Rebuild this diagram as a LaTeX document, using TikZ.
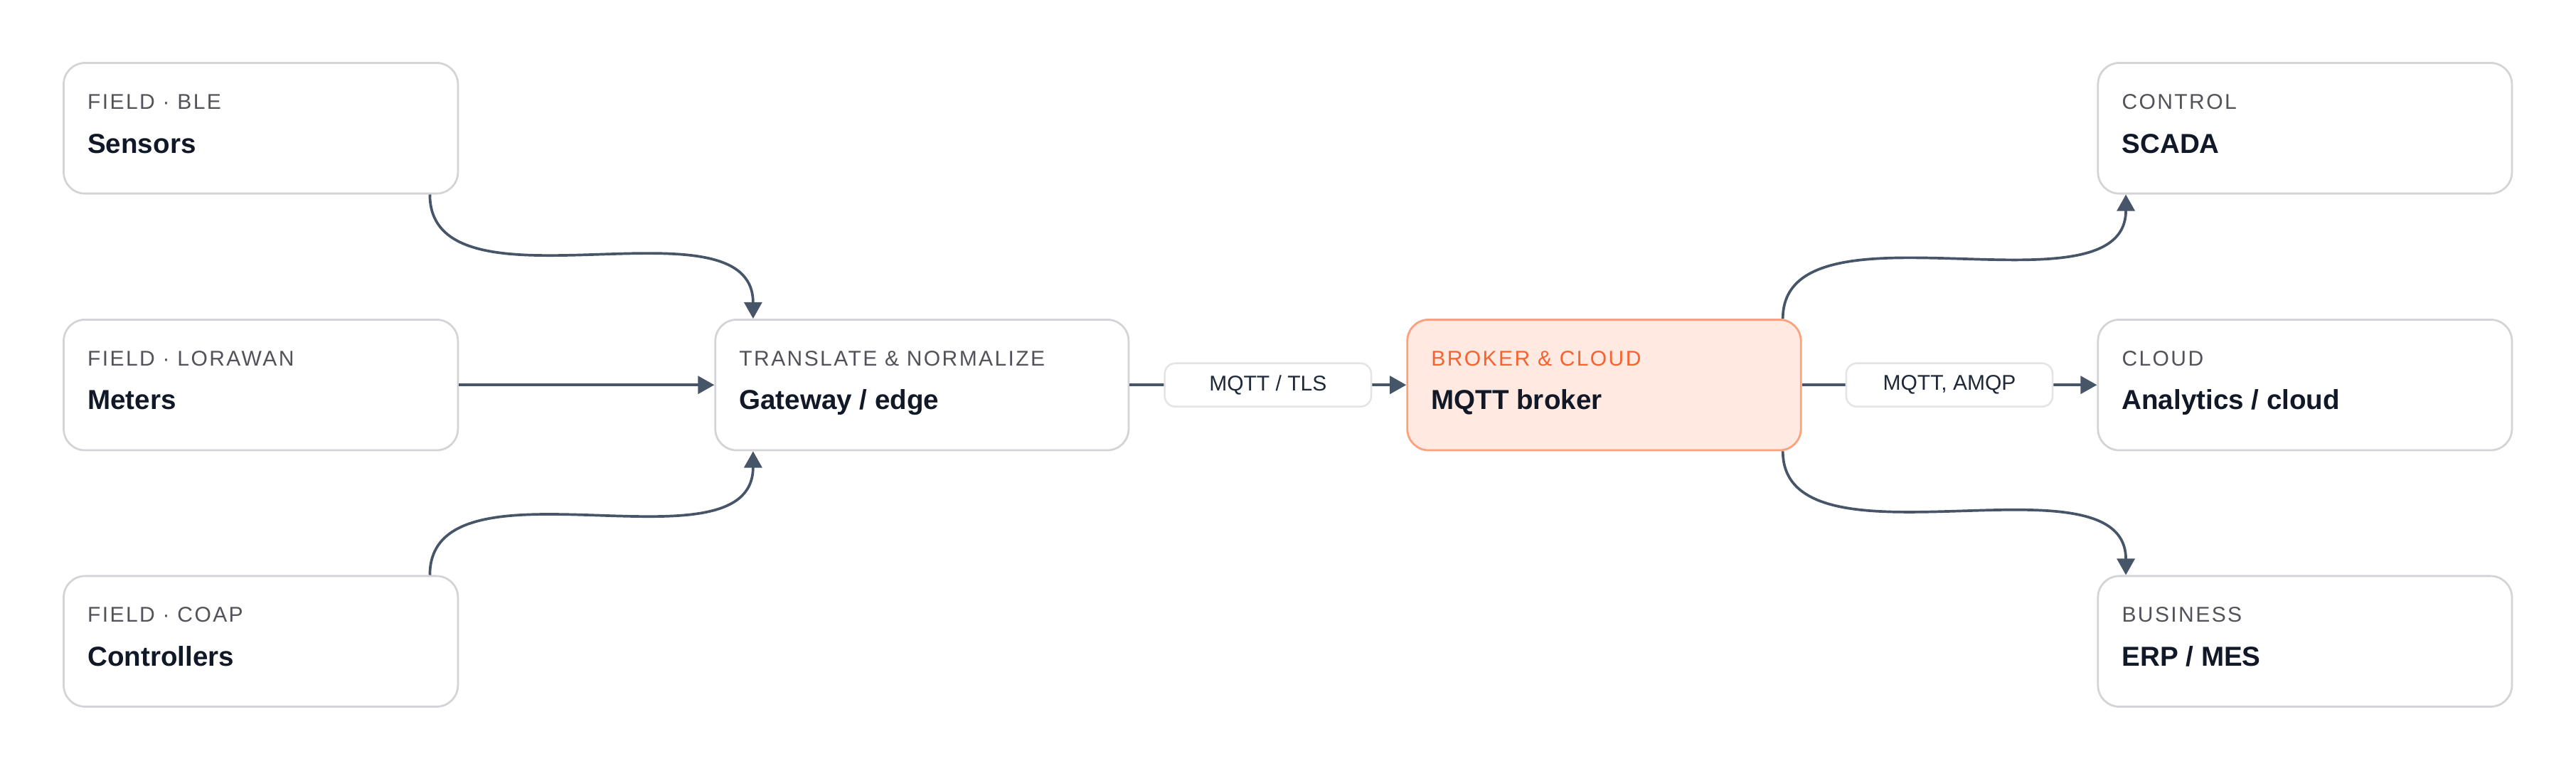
\documentclass[tikz,border=0pt]{standalone}
\usepackage{fontspec}
\setmainfont{Liberation Sans}
\newfontfamily\tagfont[LetterSpace=8]{Liberation Sans}
\usetikzlibrary{arrows.meta,calc}
\definecolor{cardline}{HTML}{D4D4D8}
\definecolor{tagtext}{HTML}{52525B}
\definecolor{ink}{HTML}{111827}
\definecolor{wire}{HTML}{475569}
\definecolor{pillline}{HTML}{E4E4E7}
\definecolor{pilltext}{HTML}{1F2937}
\definecolor{hotfill}{HTML}{FFE9E1}
\definecolor{hotline}{HTML}{FDA07D}
\definecolor{hottext}{HTML}{F9622F}
\def\rowA{78.05}
\def\rowB{234.3}
\def\rowC{390.35}
\def\bend{77}

\begin{document}
\begin{tikzpicture}[x=1pt, y=-1pt,
		card/.style={draw=cardline, line width=1.2pt, rounded corners=13pt, fill=white, minimum height=79.5pt, inner sep=0pt},
		hot/.style={card, draw=hotline, fill=hotfill},
		tag/.style={anchor=base west, inner sep=0pt, text=tagtext, font=\tagfont\fontsize{13}{15}\selectfont},
		title/.style={anchor=base west, inner sep=0pt, text=ink, font=\bfseries\fontsize{16.7}{20}\selectfont},
		pill/.style={draw=pillline, line width=1.1pt, fill=white, rounded corners=6.5pt, minimum width=125.7pt, minimum height=26.4pt, inner sep=0pt, text=pilltext, font=\fontsize{13}{15}\selectfont},
		link/.style={-{Triangle[length=10pt,width=10.8pt]}, line width=1.6pt, draw=wire}]
		
		\useasboundingbox (0,0) rectangle (1568,468.85);
		
		% ---------- Field devices ----------
		\node[card, minimum width=240pt] (sens) at (158.75,\rowA) {};
		\node[tag]   (sens-tag)  at ($(sens.north west)+(15,28.7)$) {FIELD · BLE};
		\node[title] (sens-name) at ($(sens.north west)+(15,55.4)$) {Sensors};
		
		\node[card, minimum width=240pt] (met) at (158.75,\rowB) {};
		\node[tag]   (met-tag)  at ($(met.north west)+(15,28.7)$) {FIELD · LORAWAN};
		\node[title] (met-name) at ($(met.north west)+(15,55.4)$) {Meters};
		
		\node[card, minimum width=240pt] (ctl) at (158.75,\rowC) {};
		\node[tag]   (ctl-tag)  at ($(ctl.north west)+(15,28.7)$) {FIELD · COAP};
		\node[title] (ctl-name) at ($(ctl.north west)+(15,55.4)$) {Controllers};
		
		% ---------- Gateway and broker ----------
		\node[card, minimum width=251.6pt] (gw) at (561.2,\rowB) {};
		\node[tag]   (gw-tag)  at ($(gw.north west)+(15,28.7)$) {TRANSLATE \& NORMALIZE};
		\node[title] (gw-name) at ($(gw.north west)+(15,55.4)$) {Gateway / edge};
		
		\node[hot, minimum width=239.6pt] (brk) at (976.4,\rowB) {};
		\node[tag, text=hottext] (brk-tag)  at ($(brk.north west)+(15,28.7)$) {BROKER \& CLOUD};
		\node[title]             (brk-name) at ($(brk.north west)+(15,55.4)$) {MQTT broker};
		
		% ---------- Consumers ----------
		\node[card, minimum width=252pt] (scada) at (1403,\rowA) {};
		\node[tag]   (scada-tag)  at ($(scada.north west)+(15,28.7)$) {CONTROL};
		\node[title] (scada-name) at ($(scada.north west)+(15,55.4)$) {SCADA};
		
		\node[card, minimum width=252pt] (cloud) at (1403,\rowB) {};
		\node[tag]   (cloud-tag)  at ($(cloud.north west)+(15,28.7)$) {CLOUD};
		\node[title] (cloud-name) at ($(cloud.north west)+(15,55.4)$) {Analytics / cloud};
		
		\node[card, minimum width=252pt] (erp) at (1403,\rowC) {};
		\node[tag]   (erp-tag)  at ($(erp.north west)+(15,28.7)$) {BUSINESS};
		\node[title] (erp-name) at ($(erp.north west)+(15,55.4)$) {ERP / MES};
		
		% ---------- Links into the gateway ----------
		\draw[link] ([xshift=-17.7pt]sens.south east) .. controls +(0,\bend) and +(0,-\bend) .. ([xshift=23.6pt]gw.north west);
		\draw[link] (met) -- (gw);
		\draw[link] ([xshift=-17.7pt]ctl.north east) .. controls +(0,-\bend) and +(0,\bend) .. ([xshift=23.6pt]gw.south west);
		
		% ---------- Uplink and fan-out ----------
		\draw[link] (gw) -- node[pill] (tls) {MQTT / TLS} (brk);
		\draw[link] (brk) -- node[pill] (amqp) {MQTT, AMQP} (cloud);
		\draw[link] ([xshift=-11.6pt]brk.north east) .. controls +(0,-\bend) and +(0,\bend) .. ([xshift=17.6pt]scada.south west);
		\draw[link] ([xshift=-11.6pt]brk.south east) .. controls +(0,\bend) and +(0,-\bend) .. ([xshift=17.6pt]erp.north west);
		
	\end{tikzpicture}
\end{document}
